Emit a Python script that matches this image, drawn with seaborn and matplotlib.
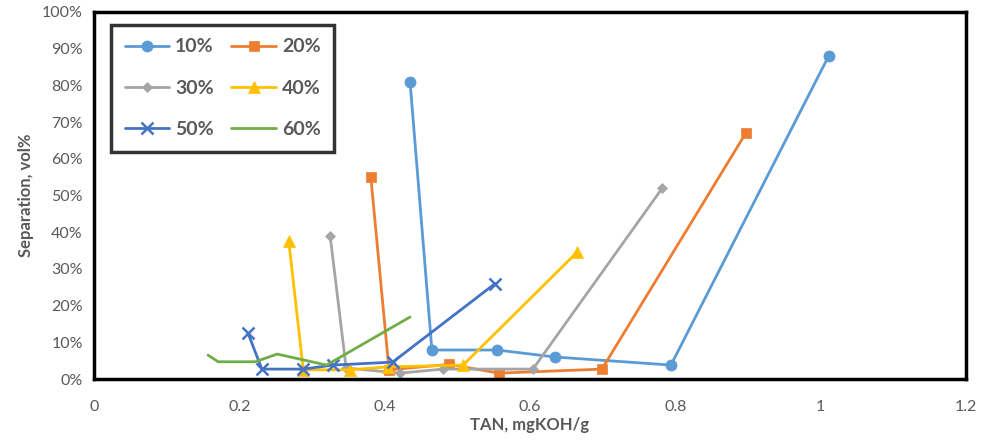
import seaborn as sns
import pandas as pd
import numpy as np
import matplotlib.pyplot as plt
from matplotlib.ticker import PercentFormatter

series = ["10%", "20%", "30%", "40%", "50%", "60%"]

tan_10 = [0.435, 0.465, 0.555, 0.634, 0.794, 1.011]
sep_10 = [80.9, 7.9, 7.9, 6.0, 3.8, 88.0]

tan_20 = [0.381, 0.406, 0.489, 0.557, 0.699, 0.897]
sep_20 = [55.0, 2.5, 4.0, 1.6, 2.7, 67.0]

tan_30 = [0.325, 0.347, 0.421, 0.480, 0.604, 0.782]
sep_30 = [39.0, 3.0, 1.6, 2.7, 2.7, 52.0]

tan_40 = [0.268, 0.288, 0.352, 0.404, 0.508, 0.665]
sep_40 = [37.6, 2.5, 2.5, 3.3, 3.8, 34.6]

tan_50 = [0.212, 0.231, 0.288, 0.329, 0.411, 0.552]
sep_50 = [12.5, 2.7, 2.7, 3.8, 4.6, 26.0]

tan_60 = [0.157, 0.171, 0.222, 0.252, 0.320, 0.435]
sep_60 = [6.5, 4.7, 4.7, 6.8, 3.8, 16.9]

tans = [tan_10, tan_20, tan_30, tan_40, tan_50, tan_60]
seps = [sep_10, sep_20, sep_30, sep_40, sep_50, sep_60]

colors = ["#5B9BD5", "#ED7D31", "#A5A5A5", "#FFC000", "#4472C4", "#70AD47"]
markers = ["o", "s", "D", "^", "x", None]
msizes = [8, 7.5, 5.5, 8, 8, 0]

sns.set_style("white")
plt.rcParams['font.family'] = ['Lato', 'DejaVu Sans']

fig = plt.figure(figsize=(9.82, 4.42), dpi=100)
ax = fig.add_axes([0.0957, 0.1425, 0.888, 0.8304])

for name, x, y, c, m, ms in zip(series, tans, seps, colors, markers, msizes):
    df = pd.DataFrame({"TAN": x, "Separation": y})
    sns.lineplot(data=df, x="TAN", y="Separation", ax=ax, sort=False,
                 estimator=None, color=c, marker=m, markersize=ms,
                 markeredgecolor=c, markeredgewidth=1.8 if m == "x" else 0.5,
                 linewidth=2.0, label=name)

ax.set_xlim(0, 1.2)
ax.set_ylim(0, 100)
ax.set_xticks(np.arange(0, 1.21, 0.2))
ax.set_xticklabels(["0", "0.2", "0.4", "0.6", "0.8", "1", "1.2"])
ax.set_yticks(np.arange(0, 101, 10))
ax.yaxis.set_major_formatter(PercentFormatter(decimals=0))
ax.tick_params(colors="#595959", labelsize=11.5, length=0)
ax.tick_params(axis="x", pad=15)
ax.tick_params(axis="y", pad=8)

for s in ax.spines.values():
    s.set_visible(True)
    s.set_color("black")
    s.set_linewidth(2.5)

ax.set_xlabel("TAN, mgKOH/g", fontsize=12, fontweight="bold", color="#595959", labelpad=2)
ax.set_ylabel("Separation, vol%", fontsize=12, fontweight="bold", color="#595959", labelpad=6)

# row-wise legend order
handles, labels = ax.get_legend_handles_labels()
order = [0, 2, 4, 1, 3, 5]
leg = ax.legend([handles[i] for i in order], [labels[i] for i in order],
                ncol=2, loc="upper left", bbox_to_anchor=(0.0195, 0.965),
                borderaxespad=0, prop={"size": 14, "weight": "bold"},
                labelcolor="#595959", frameon=True, fancybox=False,
                handlelength=2.3, handletextpad=0.3, columnspacing=0.9,
                borderpad=0.7, labelspacing=1.25)
leg.get_frame().set_edgecolor("black")
leg.get_frame().set_linewidth(2.5)

fig.savefig("out.png", dpi=100)
